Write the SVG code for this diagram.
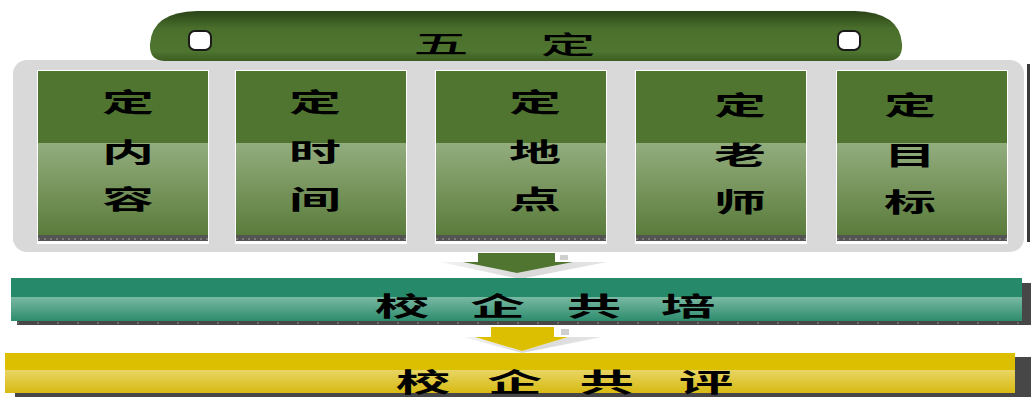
<svg xmlns="http://www.w3.org/2000/svg" width="1032" height="397" viewBox="0 0 1032 397">
<defs>
<linearGradient id="banner" x1="0" y1="0" x2="0" y2="1">
<stop offset="0" stop-color="#2a4317"/>
<stop offset="0.35" stop-color="#4a6f2c"/>
<stop offset="0.8" stop-color="#4f7631"/>
<stop offset="1" stop-color="#3c5c22"/>
</linearGradient>
<linearGradient id="colLow" x1="0" y1="0" x2="0" y2="1">
<stop offset="0" stop-color="#93ad7e"/>
<stop offset="1" stop-color="#5a7c3b"/>
</linearGradient>
<linearGradient id="tealLow" x1="0" y1="0" x2="0" y2="1">
<stop offset="0" stop-color="#79b9a3"/>
<stop offset="1" stop-color="#2d8c6d"/>
</linearGradient>
<linearGradient id="yelLow" x1="0" y1="0" x2="0" y2="1">
<stop offset="0" stop-color="#e8d564"/>
<stop offset="1" stop-color="#d7ba12"/>
</linearGradient>
<linearGradient id="chev" x1="0" y1="0" x2="1" y2="0">
<stop offset="0" stop-color="#f4f4f4"/>
<stop offset="0.5" stop-color="#d8d8d8"/>
<stop offset="1" stop-color="#e6e6e6"/>
</linearGradient>
</defs>
<style>
.colTop{fill:#507531}
.colLow{fill:url(#colLow)}
.colEdge{fill:#ffffff}
.strip{fill:#545454}
.dash{stroke:#a0a0a0;stroke-width:1;stroke-dasharray:2 4}
.ct{font-family:"Noto Sans CJK SC","Noto Sans CJK TC",sans-serif;font-weight:700;font-size:26px;fill:#000;text-anchor:middle;dominant-baseline:central}
.bt{font-family:"Noto Sans CJK SC",sans-serif;font-weight:700;font-size:26px;fill:#000;text-anchor:middle;dominant-baseline:central}
.tt{font-family:"Noto Sans CJK SC",serif;font-weight:500;font-size:25px;fill:#000;text-anchor:middle;dominant-baseline:central}
.hole{fill:#ffffff;stroke:#1a1a1a;stroke-width:2}
.shadow{fill:#474747}
</style>

<g id="panel">
<rect x="13" y="60" width="1011" height="192" rx="14" fill="#d9d9d9"/>
<rect x="1027" y="64" width="3" height="178" fill="#3a3a3a"/>
</g>

<g id="banner-node">
<path d="M197,11 L855,11 Q900,12 902,44 Q903,60 888,61 L164,61 Q149,60 150,44 Q152,12 197,11 Z" fill="url(#banner)"/>
<rect class="hole" x="189" y="31" width="22" height="19" rx="6"/>
<rect class="hole" x="838" y="31" width="22" height="19" rx="6"/>
<text class="tt" transform="translate(441,42) scale(2.2,1)">五</text>
<text class="tt" transform="translate(568,43) scale(2.2,1)">定</text>
</g>

<g id="col1">
<rect class="colEdge" x="37" y="70" width="172" height="174"/>
<rect class="colTop" x="38" y="71" width="170" height="72"/>
<rect class="colLow" x="38" y="143" width="170" height="92"/>
<rect class="strip" x="38" y="235" width="170" height="6"/>
<line class="dash" x1="38" y1="239" x2="208" y2="239"/>
<text class="ct" transform="translate(128,0) scale(2,1)"><tspan x="0" y="101">定</tspan><tspan x="0" y="151">内</tspan><tspan x="0" y="198">容</tspan></text>
</g>
<g id="col2">
<rect class="colEdge" x="235" y="70" width="172" height="174"/>
<rect class="colTop" x="236" y="71" width="170" height="72"/>
<rect class="colLow" x="236" y="143" width="170" height="92"/>
<rect class="strip" x="236" y="235" width="170" height="6"/>
<line class="dash" x1="236" y1="239" x2="406" y2="239"/>
<text class="ct" transform="translate(315,0) scale(2,1)"><tspan x="0" y="101">定</tspan><tspan x="0" y="151">时</tspan><tspan x="0" y="198">间</tspan></text>
</g>
<g id="col3">
<rect class="colEdge" x="435" y="70" width="172" height="174"/>
<rect class="colTop" x="436" y="71" width="170" height="72"/>
<rect class="colLow" x="436" y="143" width="170" height="92"/>
<rect class="strip" x="436" y="235" width="170" height="6"/>
<line class="dash" x1="436" y1="239" x2="606" y2="239"/>
<text class="ct" transform="translate(535,0) scale(2,1)"><tspan x="0" y="101">定</tspan><tspan x="0" y="151">地</tspan><tspan x="0" y="198">点</tspan></text>
</g>
<g id="col4">
<rect class="colEdge" x="635" y="70" width="172" height="174"/>
<rect class="colTop" x="636" y="71" width="170" height="72"/>
<rect class="colLow" x="636" y="143" width="170" height="92"/>
<rect class="strip" x="636" y="235" width="170" height="6"/>
<line class="dash" x1="636" y1="239" x2="806" y2="239"/>
<text class="ct" transform="translate(740,0) scale(2,1)"><tspan x="0" y="104">定</tspan><tspan x="0" y="154">老</tspan><tspan x="0" y="201">师</tspan></text>
</g>
<g id="col5">
<rect class="colEdge" x="836" y="70" width="172" height="174"/>
<rect class="colTop" x="837" y="71" width="170" height="72"/>
<rect class="colLow" x="837" y="143" width="170" height="92"/>
<rect class="strip" x="837" y="235" width="170" height="6"/>
<line class="dash" x1="837" y1="239" x2="1007" y2="239"/>
<text class="ct" transform="translate(910,0) scale(2,1)"><tspan x="0" y="104">定</tspan><tspan x="0" y="154">目</tspan><tspan x="0" y="201">标</tspan></text>
</g>

<g id="connectors">
<polygon points="440,262 520,279 607,262 573,262 517,273 463,262" fill="url(#chev)"/>
<rect x="478" y="253" width="77" height="10" fill="#507531"/>
<polygon points="463,262 573,262 517,273" fill="#507531"/>
<rect x="560" y="255" width="8" height="5" fill="#cfcfcf"/>
<polygon points="463,337 522,353 602,337 568,337 522,351 475,337" fill="url(#chev)"/>
<rect x="491" y="327" width="63" height="11" fill="#dcbf00"/>
<polygon points="475,337 568,337 522,351" fill="#dcbf00"/>
<rect x="561" y="329" width="8" height="6" fill="#cfcfcf"/>
</g>

<g id="teal-bar">
<rect class="shadow" x="17" y="283" width="1014" height="42"/>
<line x1="17" y1="323" x2="1022" y2="323" stroke="#8a8a8a" stroke-width="1" stroke-dasharray="2 18"/>
<rect x="11" y="278" width="1011" height="19" fill="#268a6a"/>
<rect x="11" y="297" width="1011" height="24" fill="url(#tealLow)"/>
<text class="bt" transform="translate(0,304) scale(2.1,1)"><tspan x="191.4" y="0">校</tspan><tspan x="237.1" y="0">企</tspan><tspan x="282.9" y="0">共</tspan><tspan x="327.6" y="0">培</tspan></text>
</g>

<g id="yellow-bar">
<rect class="shadow" x="15" y="357" width="1016" height="40"/>
<rect x="5" y="353" width="1010" height="17" fill="#dcbf00"/>
<rect x="5" y="370" width="1010" height="23" fill="url(#yelLow)"/>
<text class="bt" transform="translate(0,380) scale(2.1,1)"><tspan x="201.4" y="0">校</tspan><tspan x="245.2" y="0">企</tspan><tspan x="289" y="0">共</tspan><tspan x="336.2" y="0">评</tspan></text>
</g>
</svg>
